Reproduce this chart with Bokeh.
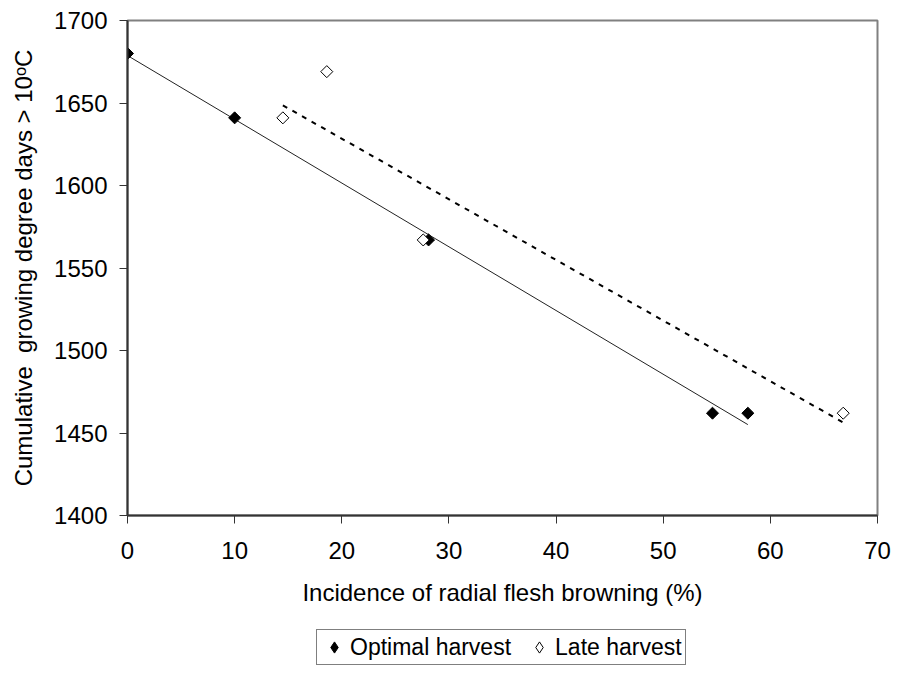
import numpy as np
from bokeh.plotting import figure
from bokeh.layouts import column
from bokeh.models import Range1d, FixedTicker, Legend, LegendItem
from bokeh.embed import file_html
from bokeh.resources import INLINE

# Data
x_optimal = [0, 10, 28.1, 54.6, 57.9]
y_optimal = [1680, 1641, 1567, 1462, 1462]
x_late = [14.5, 18.6, 27.6, 66.8]
y_late = [1641, 1669, 1567, 1462]

x_ticks = [0, 10, 20, 30, 40, 50, 60, 70]
y_ticks = [1400, 1450, 1500, 1550, 1600, 1650, 1700]

series_names = ["Optimal harvest", "Late harvest"]

FONT = "Liberation Sans"
FS = "24px"

p = figure(width=891, height=628,
           x_range=Range1d(0, 70), y_range=Range1d(1400, 1700),
           output_backend="svg", toolbar_location=None,
           min_border_left=127, min_border_right=14,
           min_border_top=20, min_border_bottom=113)

p.background_fill_color = "white"
p.border_fill_color = "white"
p.outline_line_color = "#808080"
p.outline_line_width = 2
p.xgrid.visible = False
p.ygrid.visible = False

# Linear trend lines fitted to each series
def trend(xs, ys):
    k, b = np.polyfit(np.array(xs, float), np.array(ys, float), 1)
    x0, x1 = min(xs), max(xs)
    return [x0, x1], [k * x0 + b, k * x1 + b]

tx, ty = trend(x_optimal, y_optimal)
p.line(tx, ty, line_color="#222222", line_width=1)
lx, ly = trend(x_late, y_late)
p.line(lx, ly, line_color="black", line_width=2, line_dash="5 6")

p.scatter(x_optimal, y_optimal, marker="square", size=8.5, angle=np.pi / 4,
          fill_color="black", line_color="black", line_width=1)
p.scatter(x_late, y_late, marker="square", size=8.5, angle=np.pi / 4,
          fill_color="white", line_color="black", line_width=1)

for ax in (p.xaxis[0], p.yaxis[0]):
    ax.axis_line_color = "#333333"
    ax.axis_line_width = 2
    ax.major_tick_line_color = "#333333"
    ax.major_tick_line_width = 1
    ax.major_tick_in = 0
    ax.major_tick_out = 8
    ax.minor_tick_line_color = None
    ax.major_label_text_font = FONT
    ax.major_label_text_font_size = FS
    ax.major_label_text_color = "black"
    ax.axis_label_text_font = FONT
    ax.axis_label_text_font_size = FS
    ax.axis_label_text_font_style = "normal"
    ax.axis_label_text_color = "black"

p.xaxis.ticker = FixedTicker(ticks=x_ticks)
p.yaxis.ticker = FixedTicker(ticks=y_ticks)
p.xaxis.axis_label = "Incidence of radial flesh browning (%)"
p.yaxis.axis_label = "Cumulative\u00a0 growing degree days > 10\u1d52C"
p.xaxis.major_label_standoff = 18
p.xaxis.axis_label_standoff = 17
p.yaxis.major_label_standoff = 12
p.yaxis.axis_label_standoff = 14

# Legend strip below the chart (its own series glyphs fall outside its view)
lg = figure(width=891, height=39, x_range=Range1d(0, 1), y_range=Range1d(0, 1),
            output_backend="svg", toolbar_location=None,
            x_axis_location=None, y_axis_location=None,
            min_border_left=0, min_border_right=0, min_border_top=0, min_border_bottom=0)
lg.outline_line_color = None
lg.xgrid.visible = False
lg.ygrid.visible = False
lg.background_fill_color = "white"
lg.border_fill_color = "white"

g_opt = lg.scatter(x_optimal, y_optimal, marker="diamond", size=10,
                   fill_color="black", line_color="black", line_width=1)
g_late = lg.scatter(x_late, y_late, marker="diamond", size=10,
                    fill_color="white", line_color="black", line_width=1)

legend = Legend(items=[LegendItem(label=series_names[0], renderers=[g_opt]),
                       LegendItem(label=series_names[1], renderers=[g_late])],
                orientation="horizontal", location=(189, 2))
legend.label_text_font = FONT
legend.label_text_font_size = "23px"
legend.label_text_color = "black"
legend.glyph_width = 28
legend.glyph_height = 28
legend.label_standoff = 2
legend.spacing = 14
legend.padding = 3
legend.margin = 0
legend.border_line_color = "black"
legend.border_line_width = 1
legend.background_fill_color = "white"
legend.background_fill_alpha = 1
lg.add_layout(legend, "center")

layout = column(p, lg, spacing=0)

open("out.html", "w").write(file_html(layout, INLINE))
